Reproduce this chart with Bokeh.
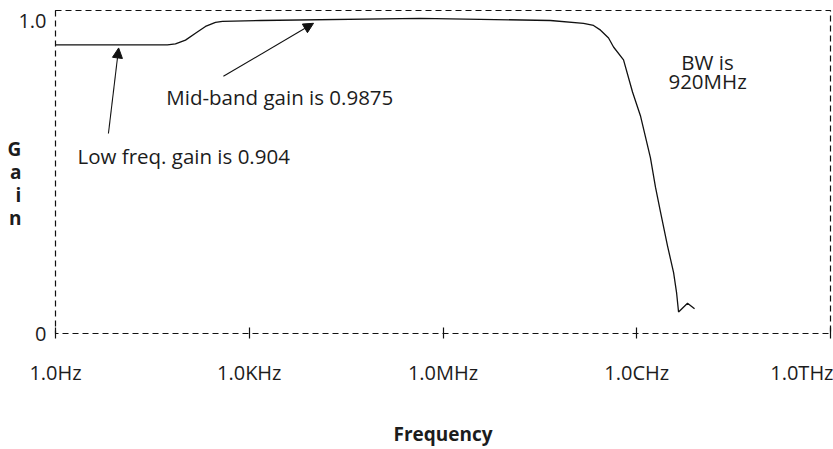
from bokeh.plotting import figure
from bokeh.models import Range1d, FixedTicker, Label, Arrow, NormalHead
from bokeh.embed import file_html
from bokeh.resources import INLINE

# ---- data ----
freq_hz = [1.0, 54, 72, 103, 147, 210, 300, 385, 1490, 4.49e5, 4.6e7, 1.5e8,
           2.14e8, 2.75e8, 3.66e8, 4.37e8, 6.24e8, 8.6e8, 1.14e9, 1.63e9,
           1.95e9, 2.33e9, 3.0e9, 3.72e9, 4.13e9, 4.44e9, 6.11e9, 7.85e9]
gain = [0.925, 0.925, 0.928, 0.940, 0.962, 0.984, 0.997, 1.000, 1.003, 1.010,
        1.003, 0.994, 0.987, 0.972, 0.947, 0.918, 0.877, 0.774, 0.698, 0.563,
        0.469, 0.390, 0.280, 0.195, 0.132, 0.069, 0.097, 0.079]

x_tick_values = [1.0, 1e3, 1e6, 1e9, 1e12]
x_tick_labels = ["1.0Hz", "1.0KHz", "1.0MHz", "1.0CHz", "1.0THz"]
y_tick_values = [0.0, 1.0]
y_tick_labels = ["0", "1.0"]

annotations = ["Mid-band gain is 0.9875", "Low freq. gain is 0.904", "BW is", "920MHz"]
annot_freq = [52, 2.19, 1.25e10, 1.25e10]
annot_gain = [0.758, 0.569, 0.871, 0.808]

# arrows: tail (freq, gain) -> head (freq, gain)
arrow_tail_f = [6.6, 398]
arrow_tail_g = [0.641, 0.824]
arrow_head_f = [9.5, 9890]
arrow_head_g = [0.915, 0.994]

FONT = "Open Sans"
INK = "#1c1c1c"

p = figure(width=833, height=449, x_axis_type="log",
           x_range=Range1d(1, 1e12), y_range=Range1d(0, 1.035),
           output_backend="svg", toolbar_location=None,
           min_border_left=55, min_border_right=3,
           min_border_top=10, min_border_bottom=110)
p.background_fill_color = "white"
p.border_fill_color = "white"
p.xgrid.visible = False
p.ygrid.visible = False
p.outline_line_color = "#111111"
p.outline_line_width = 1.2
p.outline_line_dash = "6 4"

# x axis: ticks crossing the bottom frame line, labels below
xa = p.xaxis[0]
xa.ticker = FixedTicker(ticks=x_tick_values, minor_ticks=[])
xa.major_label_overrides = dict(zip(x_tick_values, x_tick_labels))
xa.axis_line_color = None
xa.major_tick_in = 6
xa.major_tick_out = 5
xa.major_tick_line_color = "#111111"
xa.major_tick_line_width = 1.2
xa.minor_tick_line_color = None
xa.major_label_standoff = 20
xa.major_label_text_font = FONT
xa.major_label_text_font_size = "20px"
xa.major_label_text_color = INK
xa.axis_label = "Frequency"
xa.axis_label_text_font = FONT
xa.axis_label_text_font_size = "19px"
xa.axis_label_text_font_style = "bold"
xa.axis_label_text_color = INK
xa.axis_label_standoff = 32

# y axis: only the 0 and 1.0 labels, stacked "Gain" title
ya = p.yaxis[0]
ya.ticker = FixedTicker(ticks=y_tick_values, minor_ticks=[])
ya.major_label_overrides = dict(zip(y_tick_values, y_tick_labels))
ya.axis_line_color = None
ya.major_tick_line_color = None
ya.major_tick_in = 0
ya.major_tick_out = 0
ya.minor_tick_line_color = None
ya.major_label_standoff = 9
ya.major_label_text_font = FONT
ya.major_label_text_font_size = "20px"
ya.major_label_text_color = INK
ya.axis_label = "\nG\na\ni\nn"
ya.axis_label_orientation = "horizontal"
ya.axis_label_text_font = FONT
ya.axis_label_text_font_size = "19px"
ya.axis_label_text_font_style = "bold"
ya.axis_label_text_color = INK
ya.axis_label_text_line_height = 0.89
ya.axis_label_standoff = -6

p.line(freq_hz, gain, line_color="#111111", line_width=1.3)

ann_align = ["left", "left", "center", "center"]
for t, f, g, a in zip(annotations, annot_freq, annot_gain, ann_align):
    p.add_layout(Label(x=f, y=g, text=t, text_align=a, text_baseline="middle",
                       text_font=FONT, text_font_size="20.5px", text_color=INK))

for tf, tg, hf, hg in zip(arrow_tail_f, arrow_tail_g, arrow_head_f, arrow_head_g):
    p.add_layout(Arrow(x_start=tf, y_start=tg, x_end=hf, y_end=hg,
                       line_color="#111111", line_width=1.1,
                       end=NormalHead(size=10, fill_color="#111111",
                                      line_color="#111111", line_width=1)))

open("out.html", "w").write(file_html(p, INLINE))
